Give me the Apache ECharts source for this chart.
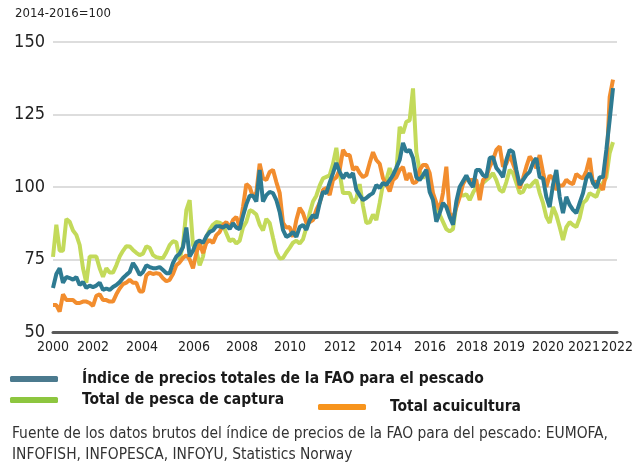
<!DOCTYPE html>
<html><head><meta charset="utf-8">
<script src="https://cdn.jsdelivr.net/npm/echarts@6/dist/echarts.min.js"></script>
<style>html,body{margin:0;padding:0;background:#fff}#c{width:639px;height:464px}</style>
</head><body><div id="c"></div>
<script>
// Sample index along the time axis (approx. every 1.6 months, Jan 2000 .. early 2022)
const tickLabels = ['2000','2002','2004','2006','2008','2010','2012','2014','2016','2018','2019','2020','2021','2022'];
const tickIndex  = [0, 12, 26.7, 42.3, 56.7, 71.1, 86.1, 99.9, 113.1, 125.7, 136.8, 148.5, 159.3, 169.2];
const yTicks = [50, 75, 100, 125, 150];

const fishIndex = [
65.2,70,72,67,69,68.6,68,69,66.2,67.2,
65.2,66,65.5,66,67,64.5,65,64.5,65.5,66.2,
67.2,68.6,69.7,70.7,73.8,72,69.7,70.7,73,72.4,
72,72,72.4,71.4,70.3,70.3,73.8,76,77,79.3,
86,76,78,81,81.5,80.7,83,84.5,85,86.5,
86.5,86,86.9,85.5,87.5,86,85.5,90,94,97,
97,95,105.9,95,97.2,98.3,97.9,95.5,91.4,85.2,
82.8,83.4,84.5,82.8,86.2,86.9,85.2,88.6,90.3,89.3,
94.5,98.3,97.9,101.5,104.8,108.3,105.2,103,104.8,103.4,
104.8,99,97.2,95.5,96.2,97.2,97.9,100.7,99.7,101.4,
100.7,102.4,104.1,106.6,109.3,115.2,112.1,112.8,110,103.4,
102.4,104.1,105.9,98.3,95.5,88,91,94.5,93.1,89.7,
87,95,100,102,104,101.5,100,105.9,105.9,104.1,
103.4,110,110.3,106.6,105.2,103.4,109.3,112.8,112.1,105.9,
100.7,102.4,104.1,105.2,108.3,110,103.4,103,96.6,93.1,
100.7,105.9,96.6,91,96.6,93.8,92.1,91,94.5,97.9,
103,104.8,101.4,99.7,103.4,103.4,112.8,123.1,134.1
];
const capture = [
75.9,87,78,78,89,88,85,83.5,80,72,
67,76,76,76,72,69,72,70.5,70.5,73,
76,78,79.6,79.5,78.3,77.3,76.5,77,79.5,79,
76.5,75.8,75.5,75.5,77.5,80,81.3,81,75,80,
92,95.5,80,78,73,76,82.8,85.2,87,87.9,
87.7,87,84,81.3,82,80.5,81.5,86,88,92,
91.5,90.5,87,85,89,87.6,82.5,77.5,75.3,75.5,
77.4,79,80.8,81.5,80.5,82,86,91,95,97,
100.5,103,103.5,104,108,113.5,104.8,97.9,97.9,97.9,
94.5,96,101,93.5,87.6,87.8,90.5,88.6,94.5,101,
102.4,106.5,103.4,105,120.7,118.6,122.5,123,134,112,
105.5,103,105.5,103,96,91.5,90.5,88,85.5,84.7,
85.5,94,97.5,97,97.5,95.5,98,100,100,101.4,
102.4,103.4,104.8,102.4,99,98.3,101.7,105.9,104.8,101.4,
97.9,98.3,100.7,100,101.4,102.4,97.9,94.5,89.7,87.6,
93.1,90.3,86.2,81.7,86.2,87.9,86.9,86.2,89.3,94.5,
95.5,97.9,97.2,96.6,99.7,101.4,103.4,111.7,115.5
];
const aquaculture = [
59.3,59.3,57,63,61,61,61,60,60,60.5,
60.5,60,59,62.5,63,61,61,60.5,60.5,63,
65,66.5,67,68,67,67,64,64,69.5,70.5,
70,70.3,70,68.5,67.5,68,70,73,74,75.5,
76.5,75,72,77.2,80.7,77.2,80.7,81.7,80.7,83.4,
84.5,86.9,87.9,85.9,88.6,89.7,86.2,93.1,101,100,
96.6,98,108,103,102.4,105.2,105.9,101.7,98,87.6,
86,86.2,82.8,88.6,92.8,91,87.6,87.9,88.6,92.1,
94.5,99,99.7,97.2,102.4,103.4,105.9,112.8,111,111,
105.9,106.9,104.8,103.4,104.1,108.3,112,109.3,108,103,
101,98.5,102.4,103.4,105.9,106.9,102.4,104.8,101.4,101.7,
105.9,107.6,107.6,104.8,97.9,94.5,92.1,98,107,91,
89,93,96.5,101,103,102.4,102.4,102.4,95.5,102.4,
103.4,106.9,109.3,112.8,114,107,108,111,108,105,
99.5,103,107,110.5,109,106.5,111,105,100,104,
103,99,100.5,100.5,102.5,101.5,101,104.5,103.5,103,
105.5,110,101,102,100.5,99,106,131,137
];

const names = ['Índice de precios totales de la FAO para el pescado','Total de pesca de captura','Total acuicultura'];
const lineColors = ['#2e7b92','#c3da5a','#f28d2e'];
const legendColors = ['#4b7a8e','#8dc63f','#f7941d'];
const FONT = '"Liberation Sans Narrow","DejaVu Sans Condensed","Roboto Condensed",Roboto,sans-serif';

const chart = echarts.init(document.getElementById('c'), null, {renderer:'canvas'});
const pairs = a => a.map((v,i)=>[i,v]);
const mkLegend = (i, left, top) => ({
  left, top, padding:0, orient:'horizontal',
  itemWidth:48, itemHeight:6, icon:'roundRect',
  selectedMode:false,
  data:[{name:names[i], itemStyle:{color:legendColors[i]}}],
  textStyle:{fontFamily:FONT, fontWeight:'bold', fontSize:15.5, color:'#1a1a1a', padding:[0,0,0,19]}
});
chart.setOption({
  animation:false,
  textStyle:{fontFamily:FONT},
  grid:{left:53, right:22, top:42, bottom:132, containLabel:false},
  xAxis:{type:'value', min:0, max:169.2,
    axisLine:{show:true, onZero:false, lineStyle:{color:'#5a5a5a', width:3}},
    axisTick:{show:false}, splitLine:{show:false},
    axisLabel:{customValues:tickIndex, formatter:(v)=>{const i=tickIndex.indexOf(v);return i>=0?tickLabels[i]:'';},
      fontFamily:FONT, fontSize:14, color:'#222', margin:8}
  },
  yAxis:{type:'value', min:50, max:150, interval:25,
    axisLine:{show:false}, axisTick:{show:false},
    splitLine:{show:true, lineStyle:{color:'#d2d2d2', width:1.5}},
    axisLabel:{fontFamily:FONT, fontSize:18, color:'#222', margin:8}
  },
  legend:[mkLegend(0,10,371), mkLegend(1,10,392), mkLegend(2,318,399)],
  graphic:[
    {type:'text', left:15, top:7, style:{text:'2014-2016=100', font:'13px '+FONT, fill:'#222'}},
    {type:'text', left:12, top:423, style:{text:'Fuente de los datos brutos del índice de precios de la FAO para del pescado: EUMOFA,\nINFOFISH, INFOPESCA, INFOYU, Statistics Norway', font:'15.4px '+FONT, fill:'#333', lineHeight:21}}
  ],
  series:[
    {name:names[1], type:'line', data:pairs(capture), showSymbol:false, lineStyle:{color:lineColors[1], width:4}, itemStyle:{color:lineColors[1]}, z:2},
    {name:names[2], type:'line', data:pairs(aquaculture), showSymbol:false, lineStyle:{color:lineColors[2], width:4}, itemStyle:{color:lineColors[2]}, z:3},
    {name:names[0], type:'line', data:pairs(fishIndex), showSymbol:false, lineStyle:{color:lineColors[0], width:4}, itemStyle:{color:lineColors[0]}, z:4}
  ]
});
</script></body></html>
